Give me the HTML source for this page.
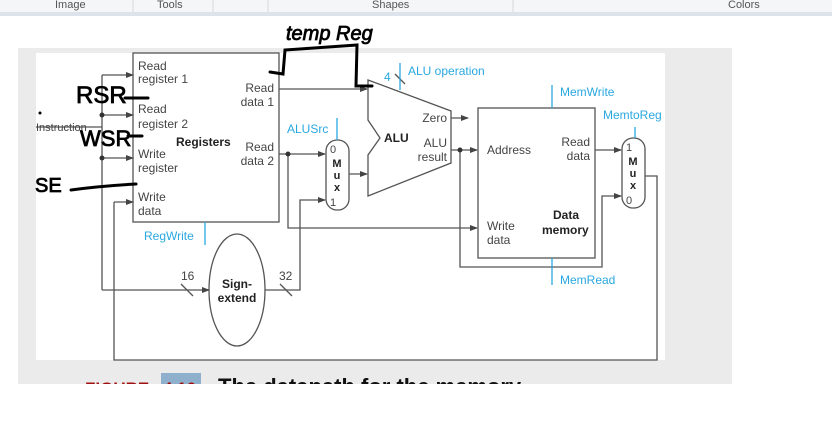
<!DOCTYPE html>
<html><head><meta charset="utf-8"><style>
html,body{margin:0;padding:0;width:832px;height:434px;overflow:hidden;background:#fff;font-family:"Liberation Sans",sans-serif}
</style></head><body>
<svg width="832" height="434" xmlns="http://www.w3.org/2000/svg" style="position:absolute;left:0;top:0" font-family="Liberation Sans, sans-serif">
<defs><marker id="a" markerWidth="8" markerHeight="6" refX="7" refY="3" orient="auto" markerUnits="userSpaceOnUse"><path d="M0,0L8,3L0,6z" fill="#444"/></marker></defs>
<rect x="0" y="0" width="832" height="12" fill="#f5f6f7"/>
<rect x="0" y="12" width="832" height="4" fill="#dde3ea"/>
<g fill="#555" font-size="11"><text x="55" y="8">Image</text><text x="157" y="8">Tools</text><text x="372" y="8">Shapes</text><text x="728" y="8">Colors</text></g>
<g stroke="#d8d8d8"><line x1="133" y1="0" x2="133" y2="12"/><line x1="213" y1="0" x2="213" y2="12"/><line x1="268" y1="0" x2="268" y2="12"/><line x1="513" y1="0" x2="513" y2="12"/></g>
<rect x="18" y="48" width="714" height="336" fill="#ebebeb"/>
<rect x="36" y="53" width="629" height="307" fill="#fff"/>
<text x="85" y="394" font-size="17" font-weight="bold" fill="#a01010">FIGURE</text>
<rect x="161" y="373" width="40" height="12" fill="#8fb0cc"/>
<text x="163" y="394" font-size="17" font-weight="bold" fill="#a01010">4.10</text>
<text x="218" y="394" font-size="22" font-weight="bold" fill="#111">The datapath for the memory</text>
<rect x="18" y="384" width="714" height="50" fill="#fff"/>
<g stroke="#555" stroke-width="1.3" fill="none">
<rect x="133" y="53" width="146" height="169"/>
<rect x="478" y="108" width="117" height="150"/>
<rect x="326" y="140" width="23" height="70" rx="11"/>
<rect x="622" y="138" width="23" height="70" rx="11"/>
<ellipse cx="237" cy="290" rx="28" ry="56"/>
<path d="M368,80L451,111L451,163L368,196L368,155L380,138L368,120Z"/>
<line x1="36" y1="127" x2="102" y2="127"/>
<path d="M102,290L102,75"/>
<line x1="102" y1="75" x2="133" y2="75" marker-end="url(#a)"/>
<line x1="102" y1="115" x2="133" y2="115" marker-end="url(#a)"/>
<line x1="102" y1="158" x2="133" y2="158" marker-end="url(#a)"/>
<line x1="102" y1="290" x2="209" y2="290" marker-end="url(#a)"/>
<path d="M114,202L133,202" marker-end="url(#a)"/>
<path d="M114,202L114,360L657,360L657,176L645,176"/>
<line x1="279" y1="89" x2="367" y2="89" marker-end="url(#a)"/>
<line x1="279" y1="154" x2="325" y2="154" marker-end="url(#a)"/>
<path d="M288,154L288,228L477,228" marker-end="url(#a)"/>
<path d="M265,290L300,290L300,200L325,200" marker-end="url(#a)"/>
<line x1="349" y1="174" x2="367" y2="174" marker-end="url(#a)"/>
<line x1="451" y1="118" x2="468" y2="118" marker-end="url(#a)"/>
<line x1="451" y1="150" x2="477" y2="150" marker-end="url(#a)"/>
<path d="M460,150L460,267L602,267L602,196L621,196" marker-end="url(#a)"/>
<line x1="595" y1="150" x2="621" y2="150" marker-end="url(#a)"/>
<line x1="181" y1="284" x2="193" y2="296"/><line x1="280" y1="284" x2="292" y2="296"/>
<line x1="395" y1="74" x2="405" y2="84"/>
</g>
<g fill="#333"><circle cx="102" cy="115" r="2.5"/><circle cx="102" cy="158" r="2.5"/><circle cx="288" cy="154" r="2.5"/><circle cx="460" cy="150" r="2.5"/></g>
<g stroke="#29a8e0" stroke-width="1.3">
<line x1="400" y1="63" x2="400" y2="90"/><line x1="552" y1="85" x2="552" y2="108"/><line x1="552" y1="258" x2="552" y2="285"/>
<line x1="635" y1="127" x2="635" y2="138"/><line x1="205" y1="222" x2="205" y2="245"/><line x1="337" y1="118" x2="337" y2="140"/>
</g>
<g fill="#29a8e0" font-size="12"><text x="408" y="75">ALU operation</text><text x="384" y="81">4</text><text x="560" y="96">MemWrite</text><text x="603" y="119">MemtoReg</text><text x="560" y="284">MemRead</text><text x="144" y="240">RegWrite</text><text x="287" y="133">ALUSrc</text></g>
<g fill="#444" font-size="12">
<text x="138" y="70">Read</text><text x="138" y="83">register 1</text>
<text x="138" y="113">Read</text><text x="138" y="128">register 2</text>
<text x="138" y="158">Write</text><text x="138" y="172">register</text>
<text x="138" y="201">Write</text><text x="138" y="215">data</text>
<text x="274" y="92" text-anchor="end">Read</text><text x="274" y="106" text-anchor="end">data 1</text>
<text x="274" y="151" text-anchor="end">Read</text><text x="274" y="165" text-anchor="end">data 2</text>
<text x="36" y="131" font-size="11">Instruction</text>
<text x="447" y="122" text-anchor="end">Zero</text><text x="447" y="147" text-anchor="end">ALU</text><text x="447" y="161" text-anchor="end">result</text>
<text x="487" y="154">Address</text><text x="590" y="146" text-anchor="end">Read</text><text x="590" y="160" text-anchor="end">data</text>
<text x="487" y="230">Write</text><text x="487" y="244">data</text>
<text x="181" y="280">16</text><text x="279" y="280">32</text>
<text x="330" y="153" font-size="11">0</text><text x="330" y="206" font-size="11">1</text>
<text x="626" y="151" font-size="11">1</text><text x="626" y="204" font-size="11">0</text>
</g>
<g fill="#222" font-size="12" font-weight="bold">
<text x="176" y="146">Registers</text><text x="384" y="142">ALU</text>
<text x="553" y="219">Data</text><text x="542" y="234">memory</text>
<text x="237" y="288" text-anchor="middle">Sign-</text><text x="237" y="302" text-anchor="middle">extend</text>
<text x="337" y="167" text-anchor="middle" font-size="11">M</text><text x="337" y="179" text-anchor="middle" font-size="11">u</text><text x="337" y="191" text-anchor="middle" font-size="11">x</text>
<text x="633" y="165" text-anchor="middle" font-size="11">M</text><text x="633" y="177" text-anchor="middle" font-size="11">u</text><text x="633" y="189" text-anchor="middle" font-size="11">x</text>
</g>
<g stroke="#000" stroke-width="3" fill="none" stroke-linecap="round">
<path d="M270,72L283,74L285,50L357,45L356,86L372,86"/>
<line x1="125" y1="98" x2="148" y2="98"/><line x1="128" y1="136" x2="142" y2="136"/>
<path d="M71,190Q100,186 136,184"/>
</g>
<g font-family="Liberation Sans, sans-serif" fill="#000">
<text x="286" y="40" font-size="20" font-style="italic" stroke="#000" stroke-width="0.8">temp Reg</text>
<text x="76" y="103" font-size="24" stroke="#000" stroke-width="0.8">RSR</text>
<text x="80" y="146" font-size="22" stroke="#000" stroke-width="0.8">WSR</text>
<text x="35" y="192" font-size="20" stroke="#000" stroke-width="0.8">SE</text>
<circle cx="40" cy="113" r="1.5"/>
</g>
</svg>
</body></html>
